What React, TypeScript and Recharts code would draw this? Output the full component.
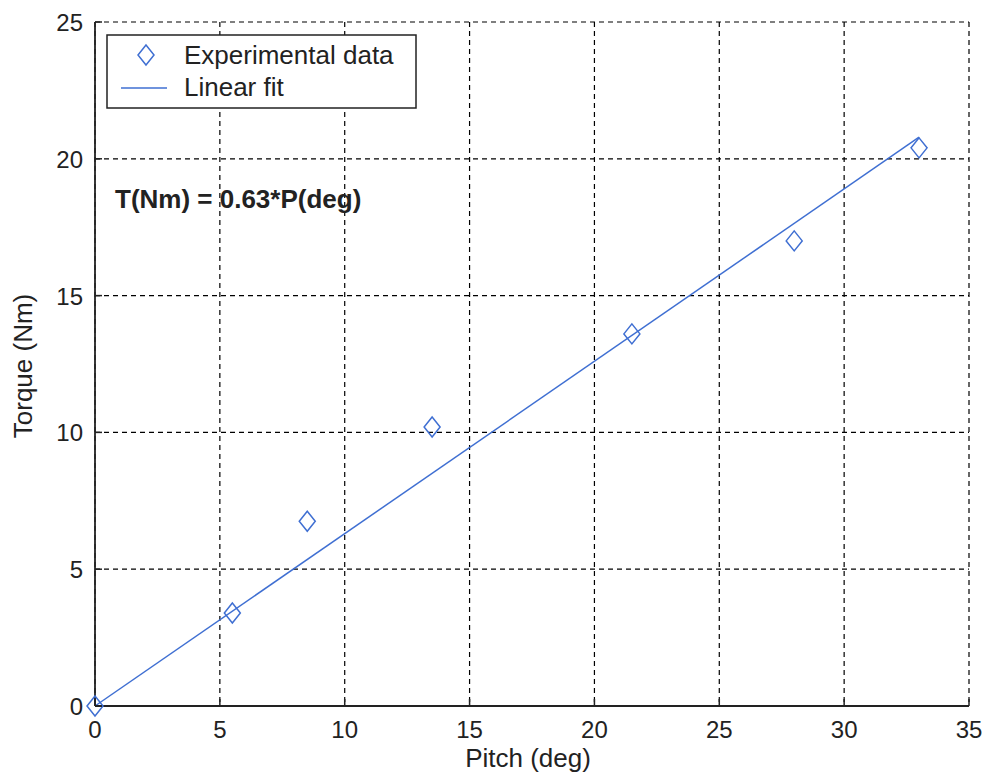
import {
  CartesianGrid,
  ComposedChart,
  Line,
  Scatter,
  XAxis,
  YAxis,
} from 'recharts'

const pitchDeg = [0, 5.5, 8.5, 13.5, 21.5, 28, 33]
const torqueNm = [0, 3.4, 6.75, 10.2, 13.6, 17, 20.4]
const fitPitch = [0, 33]
const fitTorque = [0, 20.79]
const xTicks = [0, 5, 10, 15, 20, 25, 30, 35]
const yTicks = [0, 5, 10, 15, 20, 25]

const expData = pitchDeg.map((x, i) => ({ x, y: torqueNm[i] }))
const fitData = fitPitch.map((x, i) => ({ x, y: fitTorque[i] }))

const BLUE = '#3f6fd2'
const INK = '#222'
const FONT = '"Liberation Sans", Arial, sans-serif'

function Diamond({ cx, cy }: any) {
  return (
    <path
      d={`M${cx},${cy - 10} L${cx + 8},${cy} L${cx},${cy + 10} L${cx - 8},${cy} Z`}
      fill="none"
      stroke={BLUE}
      strokeWidth={1.5}
    />
  )
}

function BottomTick({ x, y, payload }: any) {
  return (
    <g>
      <line x1={x} x2={x} y1={y} y2={y - 7} stroke={INK} strokeWidth={1.5} />
      <text x={x} y={y + 32} textAnchor="middle" fontSize={24} fontFamily={FONT} fill={INK}>
        {payload.value}
      </text>
    </g>
  )
}

function LeftTick({ x, y, payload }: any) {
  return (
    <g>
      <line x1={x} x2={x + 7} y1={y} y2={y} stroke={INK} strokeWidth={1.5} />
      <text x={x - 12} y={y + 9} textAnchor="end" fontSize={24} fontFamily={FONT} fill={INK}>
        {payload.value}
      </text>
    </g>
  )
}

function TopTick({ x, y }: any) {
  return <line x1={x} x2={x} y1={y} y2={y + 7} stroke={INK} strokeWidth={1.5} />
}

function RightTick({ x, y }: any) {
  return <line x1={x} x2={x - 7} y1={y} y2={y} stroke={INK} strokeWidth={1.5} />
}

function YTitle({ viewBox }: any) {
  const vb = viewBox ?? { x: 0, y: 14, width: 87, height: 684 }
  const cy = vb.y + vb.height / 2 + 2
  return (
    <text
      transform={`translate(${vb.x + 24}, ${cy}) rotate(-90)`}
      textAnchor="middle"
      fontSize={26}
      fontFamily={FONT}
      fill={INK}
    >
      Torque (Nm)
    </text>
  )
}

export default function App() {
  return (
    <div style={{ position: 'absolute', left: 8, top: 8, width: 975, height: 771 }}>
      <ComposedChart
        width={975}
        height={771}
        margin={{ top: 14, right: 14, left: 0, bottom: 0 }}
        style={{ overflow: 'visible' }}
      >
        <CartesianGrid stroke="#000" strokeWidth={1.2} strokeDasharray="5 4" />
        <XAxis
          type="number"
          dataKey="x"
          domain={[0, 35]}
          ticks={xTicks}
          height={73}
          tickSize={0}
          tickMargin={0}
          tickLine={false}
          axisLine={{ stroke: INK, strokeWidth: 1.8 }}
          tick={BottomTick}
          interval={0}
          label={{
            value: 'Pitch (deg)',
            position: 'insideBottom',
            offset: 12,
            dx: -4,
            fontSize: 26,
            fontFamily: FONT,
            fill: INK,
          }}
        />
        <XAxis
          xAxisId="top"
          orientation="top"
          type="number"
          dataKey="x"
          domain={[0, 35]}
          ticks={xTicks}
          height={0}
          tickSize={0}
          tickMargin={0}
          tickLine={false}
          axisLine={{ stroke: INK, strokeWidth: 1.8 }}
          tick={TopTick}
          interval={0}
        />
        <YAxis
          type="number"
          domain={[0, 25]}
          ticks={yTicks}
          width={87}
          tickSize={0}
          tickMargin={0}
          tickLine={false}
          axisLine={{ stroke: INK, strokeWidth: 1.8 }}
          tick={LeftTick}
          interval={0}
          label={{ content: YTitle }}
        />
        <YAxis
          yAxisId="right"
          orientation="right"
          type="number"
          domain={[0, 25]}
          ticks={yTicks}
          width={0}
          tickSize={0}
          tickMargin={0}
          tickLine={false}
          axisLine={{ stroke: INK, strokeWidth: 1.8 }}
          tick={RightTick}
          interval={0}
        />
        <Line
          xAxisId="top"
          yAxisId="right"
          data={fitData}
          dataKey="y"
          type="linear"
          stroke={BLUE}
          strokeWidth={1.5}
          dot={false}
          activeDot={false}
          isAnimationActive={false}
        />
        <Scatter data={expData} dataKey="y" shape={Diamond} isAnimationActive={false} />
      </ComposedChart>
      <svg
        width={975}
        height={771}
        style={{ position: 'absolute', left: 0, top: 0, pointerEvents: 'none' }}
        fontFamily={FONT}
      >
        <rect x={99} y={27} width={309} height={73} fill="#fff" stroke={INK} strokeWidth={1.5} />
        <Diamond cx={138} cy={47} />
        <line x1={113} x2={159} y1={80} y2={80} stroke={BLUE} strokeWidth={1.5} />
        <text x={176} y={56} fontSize={26} fill={INK}>Experimental data</text>
        <text x={176} y={88} fontSize={26} fill={INK}>Linear fit</text>
        <text x={107} y={200} fontSize={26} fontWeight="bold" fill={INK}>
          T(Nm) = 0.63*P(deg)
        </text>
      </svg>
    </div>
  )
}
